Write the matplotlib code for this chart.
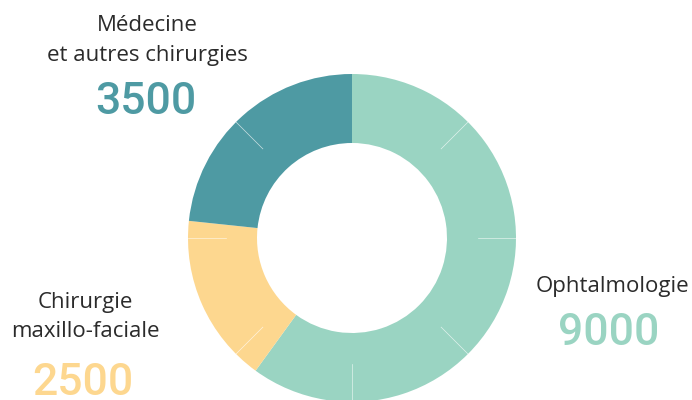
import numpy as np
import matplotlib.pyplot as plt

# données
categories = ['Ophtalmologie', 'Chirurgie\nmaxillo-faciale', 'Médecine\net autres chirurgies']
valeurs = [9000, 2500, 3500]
couleurs = ['#9AD4C2', '#FDD78F', '#4E9AA3']

plt.rcParams['font.family'] = ['Open Sans', 'DejaVu Sans']

fig = plt.figure(figsize=(6.92, 4.0), dpi=100)
ax = fig.add_axes([0, 0, 1, 1])

cx, cy = 352, 162
R, r = 164, 95

ax.pie(valeurs, colors=couleurs, startangle=90, counterclock=False,
       center=(cx, cy), radius=R, wedgeprops=dict(width=R - r, linewidth=0),
       frame=True)
ax.set_xlim(0, 692)
ax.set_ylim(0, 400)
ax.set_aspect('equal')
ax.axis('off')

# fines lignes blanches tous les 45 degrés (discrètes)
for a in np.arange(45, 360, 45):
    t = np.deg2rad(90 - a)
    r0 = r + 0.45 * (R - r)
    ax.plot([cx + r0 * np.cos(t), cx + R * np.cos(t)],
            [cy + r0 * np.sin(t), cy + R * np.sin(t)],
            color='white', lw=0.5, alpha=0.7)

txt = '#2b2b2b'
fs_lab = 16
fs_num = 32
num_font = dict(family=['Roboto', 'DejaVu Sans'], fontweight='medium')

# Médecine
ax.text(147, 400 - 31, 'Médecine', ha='center', va='baseline', fontsize=fs_lab, color=txt)
ax.text(147, 400 - 61, 'et autres chirurgies', ha='center', va='baseline', fontsize=fs_lab, color=txt)
ax.text(146, 400 - 114, f'{valeurs[2]}', ha='center', va='baseline', fontsize=fs_num,
        color=couleurs[2], **num_font)

# Chirurgie
ax.text(85, 400 - 308, 'Chirurgie', ha='center', va='baseline', fontsize=fs_lab, color=txt)
ax.text(85, 400 - 337, 'maxillo-faciale', ha='center', va='baseline', fontsize=fs_lab, color=txt)
ax.text(83, 400 - 395, f'{valeurs[1]}', ha='center', va='baseline', fontsize=fs_num,
        color=couleurs[1], **num_font)

# Ophtalmologie
ax.text(612, 400 - 292, 'Ophtalmologie', ha='center', va='baseline', fontsize=fs_lab, color=txt)
ax.text(609, 400 - 345, f'{valeurs[0]}', ha='center', va='baseline', fontsize=fs_num,
        color=couleurs[0], **num_font)

fig.savefig('out.png', dpi=100)
